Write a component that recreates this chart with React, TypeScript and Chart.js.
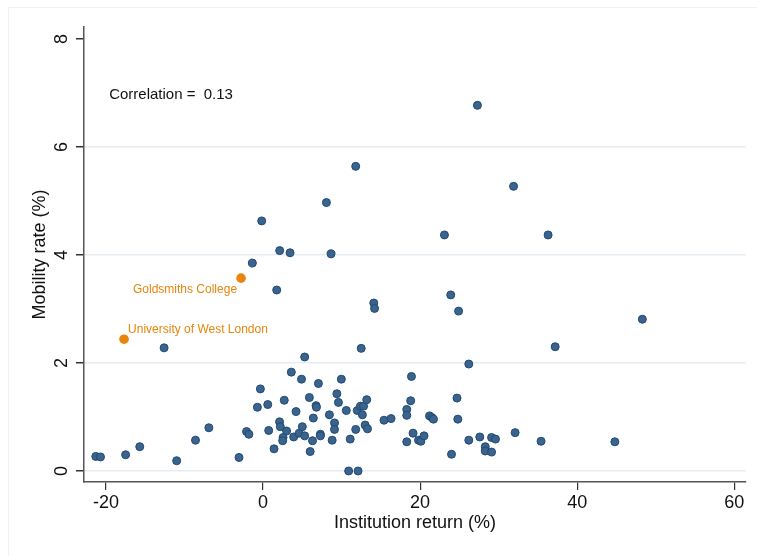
import { useEffect, useRef } from 'react';
import { Chart, registerables } from 'chart.js';

Chart.register(...registerables);

// Institution return (%) for each institution
const returnPct = [
  -21.3, -20.7, -17.5, -15.7, -12.6, -11.0, -8.6, -6.9, -3.06, -2.1,
  -1.8, -1.36, -0.17, -0.34, -0.72, 0.6, 0.72, 1.4, 1.74, 2.12,
  3.44, 2.7, 2.1, 2.2, 3.0, 2.55, 2.5, 3.6, 3.9, 4.2,
  4.6, 4.9, 5.0, 5.3, 5.3, 5.9, 6.0, 6.3, 6.4, 6.75,
  6.8, 7.05, 7.3, 7.3, 8.07, 8.66, 8.45, 8.8, 9.1, 9.1,
  9.4, 9.6, 9.97, 10.6, 10.9, 11.1, 11.8, 11.8, 12.0, 12.1,
  12.4, 12.5, 12.65, 12.8, 13.0, 13.2, 13.3, 14.1, 14.2, 15.4,
  16.3, 18.3, 18.3, 18.3, 18.8, 18.9, 19.1, 19.8, 20.1, 20.5,
  21.2, 21.5, 21.7, 23.1, 23.9, 24.0, 24.7, 24.8, 24.9, 26.2,
  26.2, 27.3, 27.6, 28.3, 28.3, 29.1, 29.1, 29.6, 31.9, 32.1,
  35.4, 36.3, 37.2, 44.8, 48.3,
];

// Mobility rate (%) for each institution
const mobilityPct = [
  0.27, 0.26, 0.30, 0.45, 2.28, 0.19, 0.57, 0.80, 0.25, 0.73,
  0.68, 3.85, 4.63, 1.52, 1.18, 1.23, 0.75, 0.41, 3.35, 4.08,
  4.04, 1.31, 0.91, 0.82, 0.74, 0.62, 0.56, 1.83, 0.63, 1.10,
  0.70, 1.70, 0.82, 2.11, 0.65, 1.36, 0.36, 0.56, 0.98, 1.21,
  1.18, 1.62, 0.68, 0.65, 4.97, 4.02, 1.04, 0.57, 0.89, 0.77,
  1.43, 1.27, 1.70, 1.12, 0.0, 0.59, 5.64, 0.77, 1.12, 0.0,
  1.20, 2.27, 1.04, 1.20, 0.85, 1.32, 0.78, 3.11, 3.01, 0.94,
  0.97, 1.14, 1.03, 0.54, 1.30, 1.75, 0.70, 0.57, 0.55, 0.65,
  1.02, 0.99, 0.96, 4.37, 3.26, 0.31, 1.35, 0.96, 2.96, 1.98,
  0.57, 6.77, 0.63, 0.45, 0.37, 0.62, 0.35, 0.59, 5.27, 0.71,
  0.55, 4.37, 2.30, 0.54, 2.81,
];

const highlightNames = ['Goldsmiths College', 'University of West London'];
const highlightReturn = [-2.8, -17.7];
const highlightMobility = [3.57, 2.44];

const xTicks = [-20, 0, 20, 40, 60];
const yTicks = [0, 2, 4, 6, 8];

const correlationLabel = 'Correlation =  0.13';
const correlationAt = { x: -19.6, y: 6.96 };

const FONT = '"Liberation Sans", Arial, Helvetica, sans-serif';
const TEXT = '#111111';
const ORANGE = '#e8850c';

const overlayPlugin = {
  id: 'overlay',
  beforeDraw(chart: any) {
    const { ctx } = chart;
    ctx.save();
    ctx.strokeStyle = '#eef2f6';
    ctx.lineWidth = 1;
    ctx.strokeRect(8.5, 7.5, chart.width + 20, chart.height + 20);
    ctx.restore();
  },
  afterDatasetsDraw(chart: any) {
    const { ctx, scales, chartArea } = chart;
    const xs = scales.x;
    const ys = scales.y;
    ctx.save();
    // rotated y tick labels
    ctx.font = `18px ${FONT}`;
    ctx.fillStyle = TEXT;
    yTicks.forEach((v) => {
      const py = ys.getPixelForValue(v);
      ctx.save();
      ctx.translate(chartArea.left - 17.5, py);
      ctx.rotate(-Math.PI / 2);
      ctx.textAlign = 'center';
      ctx.textBaseline = 'alphabetic';
      ctx.fillText(String(v), 0, 0);
      ctx.restore();
    });
    // correlation note
    ctx.font = `15px ${FONT}`;
    ctx.textAlign = 'left';
    ctx.textBaseline = 'middle';
    ctx.fillText(correlationLabel, xs.getPixelForValue(correlationAt.x), ys.getPixelForValue(correlationAt.y));
    // highlighted labels
    ctx.font = `12px ${FONT}`;
    ctx.fillStyle = ORANGE;
    highlightNames.forEach((name, i) => {
      const px = xs.getPixelForValue(highlightReturn[i]);
      const py = ys.getPixelForValue(highlightMobility[i]);
      if (i === 0) {
        ctx.textAlign = 'right';
        ctx.fillText(name, px - 4, py + 12);
      } else {
        ctx.textAlign = 'left';
        ctx.fillText(name, px + 4, py - 10);
      }
    });
    ctx.restore();
  },
};

export default function App() {
  const canvasRef = useRef<HTMLCanvasElement | null>(null);

  useEffect(() => {
    document.body.style.margin = '0';
    const canvas = canvasRef.current;
    if (!canvas) return;
    const mainPoints = returnPct.map((x, i) => ({ x, y: mobilityPct[i] }));
    const hiPoints = highlightReturn.map((x, i) => ({ x, y: highlightMobility[i] }));

    const chart = new Chart(canvas, {
      type: 'scatter',
      data: {
        datasets: [
          {
            data: mainPoints,
            backgroundColor: '#3b638b',
            borderColor: '#1e4b77',
            borderWidth: 1,
            pointRadius: 4,
          },
          {
            data: hiPoints,
            backgroundColor: ORANGE,
            borderColor: ORANGE,
            borderWidth: 0,
            pointRadius: 4.8,
          },
        ],
      },
      options: {
        responsive: false,
        animation: false,
        layout: { padding: { left: 0, right: 11, top: 27, bottom: 0 } },
        plugins: {
          legend: { display: false },
          tooltip: { enabled: false },
        },
        scales: {
          x: {
            type: 'linear',
            min: -22.8,
            max: 61.5,
            afterBuildTicks: (s: any) => {
              s.ticks = xTicks.map((value) => ({ value }));
            },
            afterFit: (s: any) => {
              s.height = 74;
            },
            grid: {
              drawOnChartArea: false,
              drawTicks: true,
              tickLength: 8,
              tickColor: '#333333',
              lineWidth: 1.2,
            },
            border: { color: '#555555', width: 1.5 },
            ticks: {
              font: { size: 18, family: FONT },
              color: TEXT,
              padding: 2,
              maxRotation: 0,
            },
            title: {
              display: true,
              text: 'Institution return (%)',
              font: { size: 18, family: FONT },
              color: TEXT,
              padding: { top: 0, bottom: 22 },
            },
          },
          y: {
            type: 'linear',
            min: -0.204,
            max: 8.22,
            afterBuildTicks: (s: any) => {
              s.ticks = yTicks.map((value) => ({ value }));
            },
            afterFit: (s: any) => {
              s.width = 84;
            },
            grid: {
              color: (c: any) => (c.tick && c.tick.value === 8 ? 'rgba(0,0,0,0)' : '#e6edf2'),
              tickColor: '#333333',
              lineWidth: 1.5,
              tickLength: 8,
            },
            border: { color: '#555555', width: 1.5 },
            ticks: { display: false },
            title: {
              display: true,
              text: 'Mobility rate (%)',
              font: { size: 18, family: FONT },
              color: TEXT,
              padding: { top: 29, bottom: 0 },
            },
          },
        },
      },
      plugins: [overlayPlugin],
    });

    return () => {
      chart.destroy();
    };
  }, []);

  return (
    <div style={{ width: 757, height: 556 }}>
      <canvas ref={canvasRef} width={757} height={556} />
    </div>
  );
}
